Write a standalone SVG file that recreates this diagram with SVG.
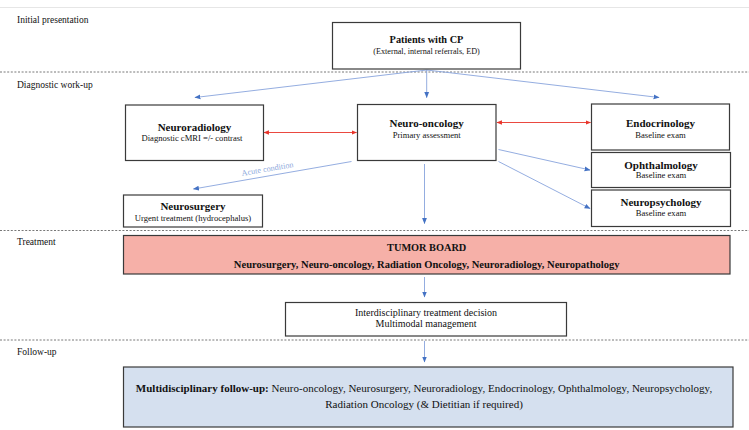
<svg xmlns="http://www.w3.org/2000/svg" width="749" height="430" viewBox="0 0 749 430" font-family="'Liberation Serif', 'Times New Roman', Times, serif">
<defs>
<marker id="ab" viewBox="0 0 10 10" refX="9" refY="5" markerWidth="6" markerHeight="6" orient="auto" markerUnits="userSpaceOnUse"><path d="M0,1 L10,5 L0,9 z" fill="#4472c4"/></marker>
<marker id="ar" viewBox="0 0 10 10" refX="9" refY="5" markerWidth="5.5" markerHeight="5.5" orient="auto-start-reverse" markerUnits="userSpaceOnUse"><path d="M0,1 L10,5 L0,9 z" fill="#e8342a"/></marker>
</defs>
<style>
text{font-family:'Liberation Serif','Times New Roman',Times,serif;fill:#111;}
.sec{font-size:9.5px;}
.t{font-size:11px;font-weight:bold;text-anchor:middle;}
.s{font-size:8.6px;text-anchor:middle;}
.box{fill:#fff;stroke:#3a3a3a;stroke-width:1.2;}
.dash{stroke:#555;stroke-width:0.8;stroke-dasharray:2 1.6;fill:none;}
.bl{stroke:#88a4dc;stroke-width:0.9;fill:none;marker-end:url(#ab);}
.rd{stroke:#e8342a;stroke-width:0.9;fill:none;marker-start:url(#ar);marker-end:url(#ar);}
</style>
<rect x="0" y="0" width="749" height="430" fill="#fff"/>
<line x1="0" y1="7.5" x2="749" y2="7.5" stroke="#e6e6e6" stroke-width="1"/>
<g id="sections">
<line class="dash" x1="0" y1="72" x2="749" y2="72"/>
<line class="dash" x1="0" y1="230.5" x2="749" y2="230.5"/>
<line class="dash" x1="0" y1="340" x2="749" y2="340"/>
<text class="sec" x="17" y="22.5">Initial presentation</text>
<text class="sec" x="17" y="87.5">Diagnostic work-up</text>
<text class="sec" x="17" y="245">Treatment</text>
<text class="sec" x="17" y="355">Follow-up</text>
</g>
<g id="connectors">
<line class="bl" x1="426.7" y1="70" x2="195" y2="97.5"/>
<line class="bl" x1="426.7" y1="70" x2="426.7" y2="97.5"/>
<line class="bl" x1="426.7" y1="70" x2="659" y2="97.5"/>
<line class="rd" x1="264" y1="132.5" x2="356.5" y2="132.5"/>
<line class="rd" x1="497" y1="122.5" x2="590.5" y2="122.5"/>
<line class="bl" x1="498.5" y1="149.5" x2="590" y2="170"/>
<line class="bl" x1="498.5" y1="161.5" x2="590" y2="208.5"/>
<line class="bl" x1="351.5" y1="161.5" x2="193.5" y2="189"/>
<text x="268" y="171.5" transform="rotate(-9.8 268 171.5)" text-anchor="middle" style="font-size:8.2px;fill:#8faadc">Acute condition</text>
<line class="bl" x1="424.5" y1="164" x2="424.5" y2="223.5"/>
<line class="bl" x1="424.5" y1="277" x2="424.5" y2="297"/>
<line class="bl" x1="424.5" y1="341" x2="424.5" y2="362"/>
</g>
<g id="patients">
<rect class="box" x="332.5" y="22.5" width="188" height="46.5"/>
<text class="t" x="426.5" y="42.5" style="font-size:10.3px">Patients with CP</text>
<text class="s" x="426.5" y="53.5" style="font-size:8.2px">(External, internal referrals, ED)</text>
</g>
<g id="neuroradiology">
<rect class="box" x="125.5" y="105" width="138" height="55.5"/>
<text class="t" x="194.5" y="130.5">Neuroradiology</text>
<text class="s" x="192" y="141">Diagnostic cMRI =/- contrast</text>
</g>
<g id="neurooncology">
<rect class="box" x="357.5" y="104.5" width="138.5" height="56"/>
<text class="t" x="426.7" y="127.3">Neuro-oncology</text>
<text class="s" x="426.7" y="138.3">Primary assessment</text>
</g>
<g id="endocrinology">
<rect class="box" x="591.5" y="104" width="138" height="46"/>
<text class="t" x="660.5" y="127.3">Endocrinology</text>
<text class="s" x="660.5" y="138">Baseline exam</text>
</g>
<g id="ophthalmology">
<rect class="box" x="591.5" y="152.5" width="139" height="35"/>
<text class="t" x="661" y="168.7">Ophthalmology</text>
<text class="s" x="661" y="178.3">Baseline exam</text>
</g>
<g id="neuropsychology">
<rect class="box" x="591.5" y="190" width="139" height="36.5"/>
<text class="t" x="661" y="206">Neuropsychology</text>
<text class="s" x="661" y="216">Baseline exam</text>
</g>
<g id="neurosurgery">
<rect class="box" x="123.5" y="195" width="139" height="32"/>
<text class="t" x="193" y="210">Neurosurgery</text>
<text class="s" x="193" y="220.7">Urgent treatment (hydrocephalus)</text>
</g>
<g id="tumorboard">
<rect x="123.5" y="235.5" width="606.5" height="38.5" fill="#f6b0a8" stroke="#3a3a3a" stroke-width="1.2"/>
<text class="t" x="426.7" y="251" style="font-size:10.3px">TUMOR BOARD</text>
<text class="t" x="426.7" y="268" style="font-size:10.55px">Neurosurgery, Neuro-oncology, Radiation Oncology, Neuroradiology, Neuropathology</text>
</g>
<g id="decision">
<rect class="box" x="285.5" y="302.5" width="281" height="33.5"/>
<text class="s" x="426" y="316" style="font-size:10px">Interdisciplinary treatment decision</text>
<text class="s" x="426" y="327" style="font-size:10px">Multimodal management</text>
</g>
<g id="followup">
<rect x="123.5" y="367" width="609.5" height="60" fill="#d5e0ef" stroke="#3a3a3a" stroke-width="1.2"/>
<text x="424" y="392" text-anchor="middle" style="font-size:11px"><tspan font-weight="bold">Multidisciplinary follow-up:</tspan> Neuro-oncology, Neurosurgery, Neuroradiology, Endocrinology, Ophthalmology, Neuropsychology,</text>
<text x="424" y="407.5" text-anchor="middle" style="font-size:11px">Radiation Oncology (&amp; Dietitian if required)</text>
</g>
</svg>
